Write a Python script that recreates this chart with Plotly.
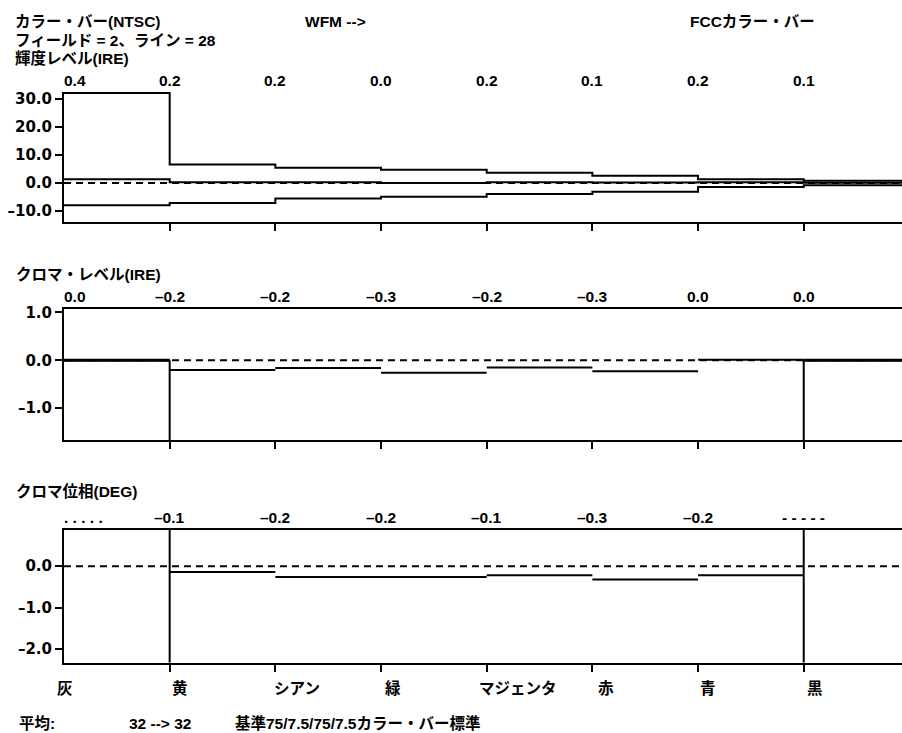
import plotly.graph_objects as go

# ---------------- data ----------------
categories = ["灰", "黄", "シアン", "緑", "マジェンタ", "赤", "青", "黒"]

luma_upper = [32.0, 6.6, 5.4, 4.7, 3.7, 2.6, 1.3, 0.8]
luma_mid = [1.3, 0.3, 0.3, 0.0, 0.3, 0.2, 0.3, 0.1]
luma_lower = [-7.9, -7.1, -5.5, -4.9, -3.9, -3.1, -1.4, -0.8]
luma_labels = ["0.4", "0.2", "0.2", "0.0", "0.2", "0.1", "0.2", "0.1"]

chroma_level = [0.0, -0.2, -0.16, -0.26, -0.15, -0.23, 0.01, 0.0]
chroma_labels = ["0.0", "–0.2", "–0.2", "–0.3", "–0.2", "–0.3", "0.0", "0.0"]

chroma_phase = [None, -0.14, -0.26, -0.26, -0.22, -0.32, -0.22, None]
phase_labels = [". . . . .", "–0.1", "–0.2", "–0.2", "–0.1", "–0.3", "–0.2", "- - - - -"]

luma_ticks = [30, 20, 10, 0, -10]
luma_ticktext = ["30.0", "20.0", "10.0", "0.0", "–10.0"]
level_ticks = [1, 0, -1]
level_ticktext = ["1.0", "0.0", "–1.0"]
phase_ticks = [0, -1, -2]
phase_ticktext = ["0.0", "–1.0", "–2.0"]

header_lines = ["カラー・バー(NTSC)", "フィールド = 2、ライン = 28", "輝度レベル(IRE)"]
footer = ["平均:", "32 --> 32", "基準75/7.5/75/7.5カラー・バー標準"]

# ---------------- layout constants ----------------
W, H = 902, 733
L = 64
FONT = "Liberation Sans, Arial, Noto Sans CJK JP, sans-serif"
TICKFONT = "DejaVu Sans, Liberation Sans, sans-serif"
FS = 15.5
XR = [0, 7.93]
Y1R = [-13.8, 32.5]
Y2R = [-1.67, 1.08]
Y3R = [-2.33, 0.88]


def px(xp):
    return (xp - L) / (W - L)


def py(yp):
    return 1 - yp / H


fig = go.Figure()
n = len(categories)
xs_step = list(range(n)) + [n]
line = dict(color="black", width=2)

# luma panel
for vals in (luma_upper, luma_mid, luma_lower):
    fig.add_trace(go.Scatter(x=xs_step, y=vals + [vals[-1]], mode="lines",
                             line=dict(color="black", width=2, shape="hv"),
                             xaxis="x", yaxis="y", hoverinfo="skip"))


def segments(vals):
    xs, ys = [], []
    for k, v in enumerate(vals):
        if v is None:
            continue
        xs += [k, k + 1, None]
        ys += [v, v, None]
    return xs, ys


# dashed zero lines
for xa, ya in (("x", "y"), ("x2", "y2"), ("x3", "y3")):
    fig.add_trace(go.Scatter(x=[0, n], y=[0, 0], mode="lines",
                             line=dict(color="black", width=2, dash="7px,5px"),
                             xaxis=xa, yaxis=ya, hoverinfo="skip"))

# chroma level panel
sx, sy = segments(chroma_level)
fig.add_trace(go.Scatter(x=sx, y=sy, mode="lines", line=line,
                         xaxis="x2", yaxis="y2", hoverinfo="skip"))
for k in (0, n - 1):
    fig.add_trace(go.Scatter(x=[k, k + 1], y=[chroma_level[k]] * 2, mode="lines",
                             line=dict(color="black", width=3),
                             xaxis="x2", yaxis="y2", hoverinfo="skip"))
for k in (1, n - 1):
    fig.add_trace(go.Scatter(x=[k, k], y=[Y2R[0], 0], mode="lines", line=line,
                             xaxis="x2", yaxis="y2", hoverinfo="skip"))

# chroma phase panel
sx, sy = segments(chroma_phase)
fig.add_trace(go.Scatter(x=sx, y=sy, mode="lines", line=line,
                         xaxis="x3", yaxis="y3", hoverinfo="skip"))
for k in (1, n - 1):
    fig.add_trace(go.Scatter(x=[k, k], y=Y3R, mode="lines", line=line,
                             xaxis="x3", yaxis="y3", hoverinfo="skip"))

tf = dict(family=FONT, size=FS, color="black", weight="bold")
tickf = dict(family=TICKFONT, size=15, color="black", weight="bold")


def xaxis(domain_anchor, mirror):
    return dict(domain=[0, 1], range=XR, anchor=domain_anchor, showgrid=False,
                zeroline=False, showline=True, linecolor="black", linewidth=2,
                mirror=mirror, ticks="outside", ticklen=7, tickwidth=2,
                tickcolor="black", tickvals=list(range(1, n)),
                showticklabels=False, fixedrange=True)


def yaxis(domain, rng, tv, tt, anchor):
    return dict(domain=domain, range=rng, anchor=anchor, showgrid=False,
                zeroline=False, showline=True, linecolor="black", linewidth=2,
                ticks="outside", ticklen=7, tickwidth=2, tickcolor="black",
                tickvals=tv, ticktext=tt, tickfont=tickf, fixedrange=True)


annotations = []


def ann(text, x, y, xref="paper", yref="paper", xanchor="left", xshift=0):
    annotations.append(dict(text=text, x=x, y=y, xref=xref, yref=yref,
                            xanchor=xanchor, yanchor="middle", showarrow=False,
                            font=tf, xshift=xshift))


for i, t in enumerate(header_lines):
    ann(t, px(13), py([17, 36, 53][i]))
ann("WFM -->", px(303), py(17))
ann("FCCカラー・バー", px(688), py(17))
ann("クロマ・レベル(IRE)", px(14), py(271))
ann("クロマ位相(DEG)", px(14), py(490))

for labels, xr, ypix in ((luma_labels, "x", 76), (chroma_labels, "x2", 294),
                         (phase_labels, "x3", 516)):
    for k, t in enumerate(labels):
        if k == 0:
            ann(t, 0, py(ypix), xref=xr, xanchor="left", xshift=-2)
        else:
            ann(t, k, py(ypix), xref=xr, xanchor="center")

cat_shift = [-9, 0, -3, 2, -10, 4, 0, 1]
for k, c in enumerate(categories):
    ann(c, k, py(688), xref="x3", xanchor="left", xshift=cat_shift[k])

for t, xp in zip(footer, (17, 127, 233)):
    ann(t, px(xp), py(723))

fig.update_layout(
    width=W, height=H, margin=dict(l=L, r=0, t=0, b=0),
    paper_bgcolor="white", plot_bgcolor="white", showlegend=False,
    font=tf,
    xaxis=xaxis("y", False),
    xaxis2=xaxis("y2", True),
    xaxis3=xaxis("y3", True),
    yaxis=yaxis([py(218.3), py(87.3)], Y1R, luma_ticks, luma_ticktext, "x"),
    yaxis2=yaxis([py(438.3), py(305.7)], Y2R, level_ticks, level_ticktext, "x2"),
    yaxis3=yaxis([py(662.3), py(528.3)], Y3R, phase_ticks, phase_ticktext, "x3"),
    annotations=annotations,
)

fig.write_html(
    "out.html",
    config={"displayModeBar": False},
    post_script="document.body.style.margin='0';document.body.style.overflow='hidden';",
)
